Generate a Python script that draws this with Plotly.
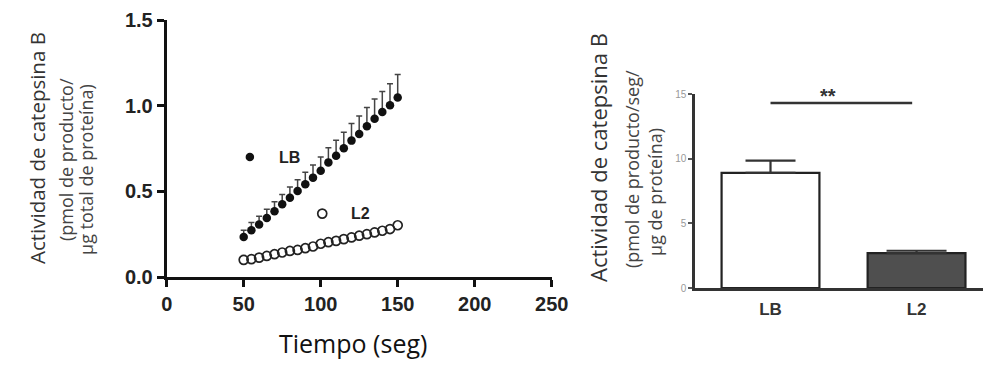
import plotly.graph_objects as go

# ---------------- data ----------------
time_s = [50, 55, 60, 65, 70, 75, 80, 85, 90, 95, 100, 105, 110, 115, 120, 125, 130, 135, 140, 145, 150]
lb_vals = [0.233, 0.273, 0.306, 0.345, 0.384, 0.424, 0.463, 0.502, 0.541, 0.580, 0.620,
           0.669, 0.708, 0.751, 0.796, 0.835, 0.880, 0.924, 0.963, 1.002, 1.047]
lb_err = [0.040, 0.045, 0.048, 0.050, 0.055, 0.058, 0.062, 0.066, 0.070, 0.074, 0.080,
          0.085, 0.090, 0.094, 0.100, 0.105, 0.110, 0.115, 0.120, 0.126, 0.135]
l2_vals = [0.100, 0.104, 0.113, 0.123, 0.133, 0.143, 0.152, 0.158, 0.168, 0.178, 0.194,
           0.203, 0.211, 0.221, 0.231, 0.241, 0.250, 0.260, 0.270, 0.280, 0.302]

bar_cats = ["LB", "L2"]
bar_vals = [8.9, 2.7]
bar_err = [0.95, 0.18]
sig_label = "**"

x_ticks = [0, 50, 100, 150, 200, 250]
y_ticks = [0.0, 0.5, 1.0, 1.5]
y_ticktext = ["0.0", "0.5", "1.0", "1.5"]
y2_ticks = [0, 5, 10, 15]

W, H = 983, 379

fig = go.Figure()

# ---------------- left: time course ----------------
fig.add_trace(go.Scatter(
    x=time_s, y=lb_vals, mode="markers",
    marker=dict(symbol="circle", size=8.5, color="#111"),
    error_y=dict(type="data", symmetric=False, array=lb_err, arrayminus=[0] * len(lb_err),
                 color="#444", thickness=1.5, width=3),
    xaxis="x", yaxis="y", showlegend=False, cliponaxis=False))
fig.add_trace(go.Scatter(
    x=time_s, y=l2_vals, mode="markers",
    marker=dict(symbol="circle-open", size=9, color="#222", line=dict(width=1.7)),
    xaxis="x", yaxis="y", showlegend=False, cliponaxis=False))

# in-plot legend
fig.add_trace(go.Scatter(x=[54], y=[0.70], mode="markers",
                         marker=dict(symbol="circle", size=8.5, color="#111"),
                         xaxis="x", yaxis="y", showlegend=False))
fig.add_trace(go.Scatter(x=[101], y=[0.37], mode="markers",
                         marker=dict(symbol="circle-open", size=9, color="#222", line=dict(width=1.7)),
                         xaxis="x", yaxis="y", showlegend=False))
fig.add_annotation(x=80, y=0.70, xref="x", yref="y", text="<b>LB</b>", showarrow=False,
                   font=dict(family="Liberation Sans", size=16, color="#222"))
fig.add_annotation(x=126, y=0.37, xref="x", yref="y", text="<b>L2</b>", showarrow=False,
                   font=dict(family="Liberation Sans", size=16, color="#222"))

# ---------------- right: bars ----------------
bar_colors = ["white", "#4f4f4f"]
cap_widths = [25, 30]
for i, cat in enumerate(bar_cats):
    fig.add_trace(go.Bar(
        x=[i], y=[bar_vals[i]], width=0.67,
        marker=dict(color=bar_colors[i], line=dict(color="#222", width=2.2)),
        error_y=dict(type="data", symmetric=False, array=[bar_err[i]], arrayminus=[0],
                     color="#333", thickness=2.2, width=cap_widths[i]),
        xaxis="x2", yaxis="y2", showlegend=False, name=cat))

fig.add_shape(type="line", x0=0.0, x1=0.97, y0=14.3, y1=14.3, xref="x2", yref="y2",
              line=dict(color="#333", width=2.5))
fig.add_annotation(x=838 / W, y=1 - 83 / H, xref="paper", yref="paper", text="<b>" + sig_label + "</b>",
                   showarrow=False, font=dict(family="Liberation Sans", size=20, color="#333"))

# ---------------- axis titles ----------------
title_font = dict(family="Open Sans", size=20.5, color="#333")
sub_font = dict(family="Open Sans", size=18, color="#444")

fig.add_annotation(x=21 / W, y=1 - 148 / H, xref="paper", yref="paper", text="Actividad de catepsina B",
                   textangle=-90, showarrow=False, font=title_font)
fig.add_annotation(x=52 / W, y=1 - 160 / H, xref="paper", yref="paper", text="(pmol de producto/",
                   textangle=-90, showarrow=False, font=sub_font)
fig.add_annotation(x=72 / W, y=1 - 170 / H, xref="paper", yref="paper", text="µg total de proteína)",
                   textangle=-90, showarrow=False, font=sub_font)

fig.add_annotation(x=598 / W, y=1 - 158 / H, xref="paper", yref="paper", text="Actividad de catepsina B",
                   textangle=-90, showarrow=False, font=dict(family="Open Sans", size=22, color="#333"))
fig.add_annotation(x=632 / W, y=1 - 169 / H, xref="paper", yref="paper", text="(pmol de producto/seg/",
                   textangle=-90, showarrow=False, font=sub_font)
fig.add_annotation(x=655 / W, y=1 - 192 / H, xref="paper", yref="paper", text="µg de proteína)",
                   textangle=-90, showarrow=False, font=sub_font)

fig.add_annotation(x=353 / W, y=1 - 362 / H, xref="paper", yref="paper", text="Tiempo (seg)",
                   showarrow=False, font=dict(family="Open Sans", size=25, color="#111"))

tick_font = dict(family="Liberation Sans", size=20, color="#222")

fig.update_layout(
    width=W, height=H,
    margin=dict(l=0, r=0, t=0, b=0),
    paper_bgcolor="white", plot_bgcolor="white",
    barmode="overlay",
    xaxis=dict(domain=[166.7 / W, 551.7 / W], range=[0, 250], tickvals=x_ticks,
               ticktext=["<b>%d</b>" % v for v in x_ticks],
               showline=True, linecolor="#111", linewidth=3, ticks="outside", ticklen=7,
               tickwidth=3, tickcolor="#111", showgrid=False, zeroline=False,
               tickfont=tick_font, anchor="y", automargin=False),
    yaxis=dict(domain=[1 - 277 / H, 1 - 20 / H], range=[0, 1.5], tickvals=y_ticks,
               ticktext=["<b>%s</b>" % t for t in y_ticktext],
               showline=True, linecolor="#111", linewidth=3, ticks="outside", ticklen=7,
               tickwidth=3, tickcolor="#111", showgrid=False, zeroline=False,
               tickfont=tick_font, anchor="x", automargin=False),
    xaxis2=dict(domain=[695 / W, 1.0], range=[-0.517, 1.455], tickvals=[0, 1],
                ticktext=["<b>%s</b>" % c for c in bar_cats],
                showline=True, linecolor="#333", linewidth=2.5, ticks="", showgrid=False,
                zeroline=False, tickfont=dict(family="Liberation Sans", size=17, color="#333"),
                ticklabelstandoff=4, anchor="y2", automargin=False),
    yaxis2=dict(domain=[1 - 288 / H, 1 - 94 / H], range=[0, 15], tickvals=y2_ticks,
                showline=True, linecolor="#333", linewidth=2.5, ticks="outside", ticklen=4,
                tickwidth=2, tickcolor="#555", showgrid=False, zeroline=False,
                tickfont=dict(family="Liberation Sans", size=10, color="#999"), anchor="x2",
                automargin=False),
)

fig.write_html("out.html")
